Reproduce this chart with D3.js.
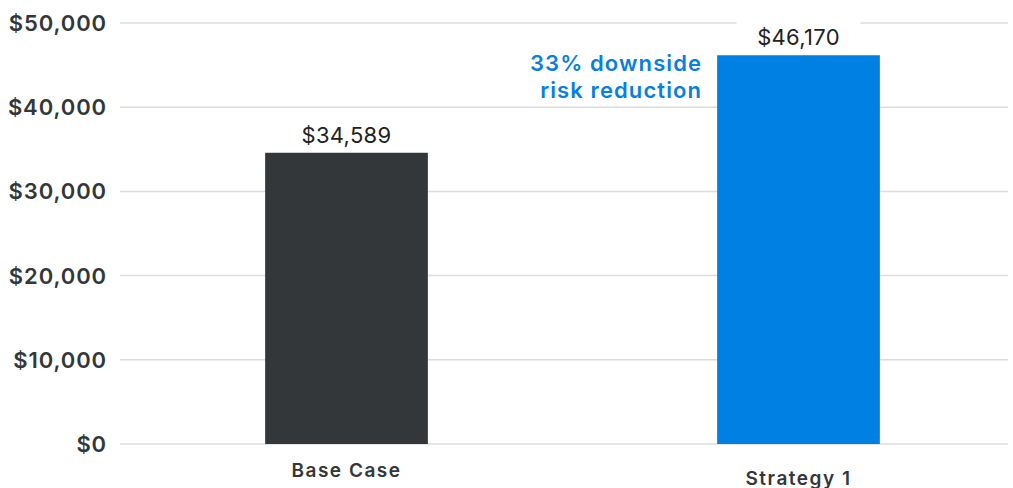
<!DOCTYPE html>
<html><head><meta charset="utf-8">
<script src="https://cdn.jsdelivr.net/npm/d3@7"></script>
<style>body{margin:0;background:#fff;} svg{display:block;font-family:Inter, "Noto Sans", sans-serif;}</style>
</head><body>
<svg id="c" width="1013" height="488"></svg>
<script>
const categories = ["Base Case", "Strategy 1"];
const values = [34589, 46170];
const valueLabels = ["$34,589", "$46,170"];
const yTicks = [0, 10000, 20000, 30000, 40000, 50000];
const annotation = ["33% downside", "risk reduction"];
const colors = ["#33373a", "#0080e2"];

const svg = d3.select("#c");
const y = d3.scaleLinear().domain([0, 50000]).range([444, 23]);
const x = d3.scaleBand().domain(categories).range([120.5, 1024.5]).paddingInner(0.64).paddingOuter(0.32);

// gridlines
svg.append("g").selectAll("line").data(yTicks).join("line")
  .attr("x1", 120).attr("x2", 1008)
  .attr("y1", d => y(d)).attr("y2", d => y(d))
  .attr("stroke", "#dcdcdc").attr("stroke-width", 1.5);

// y labels
svg.append("g").selectAll("text").data(yTicks).join("text")
  .attr("x", 107).attr("y", d => y(d)).attr("dy", "0.36em")
  .attr("text-anchor", "end").attr("font-size", 22).attr("font-weight", 600)
  .attr("letter-spacing", 0.9)
  .attr("fill", "#33373a")
  .text(d => "$" + d3.format(",")(d));

// bars
svg.append("g").selectAll("rect").data(categories).join("rect")
  .attr("x", d => x(d)).attr("width", x.bandwidth())
  .attr("y", (d, i) => y(values[i])).attr("height", (d, i) => y(0) - y(values[i]))
  .attr("fill", (d, i) => colors[i]);

// value labels with white background
const vl = svg.append("g").selectAll("g").data(categories).join("g");
vl.append("rect")
  .attr("x", d => x(d) + x.bandwidth() / 2 - 62).attr("width", 124)
  .attr("y", (d, i) => y(values[i]) - 38).attr("height", 34)
  .attr("fill", "#fff");
vl.append("text")
  .attr("x", d => x(d) + x.bandwidth() / 2)
  .attr("y", (d, i) => y(values[i]) - 10)
  .attr("text-anchor", "middle").attr("font-size", 22).attr("font-weight", 400)
  .attr("letter-spacing", 0.3)
  .attr("fill", "#222")
  .text((d, i) => valueLabels[i]);

// category labels
const catY = [477, 485];
svg.append("g").selectAll("text").data(categories).join("text")
  .attr("x", d => x(d) + x.bandwidth() / 2)
  .attr("y", (d, i) => catY[i])
  .attr("text-anchor", "middle").attr("font-size", 19).attr("font-weight", 600)
  .attr("letter-spacing", 1.5)
  .attr("fill", "#33373a")
  .text(d => d);

// annotation
svg.append("g").selectAll("text").data(annotation).join("text")
  .attr("x", x("Strategy 1") - 15)
  .attr("y", (d, i) => 71 + i * 27)
  .attr("text-anchor", "end").attr("font-size", 22).attr("font-weight", 600)
  .attr("letter-spacing", 1.1)
  .attr("fill", "#0a7fe0")
  .text(d => d);
</script>
</body></html>
